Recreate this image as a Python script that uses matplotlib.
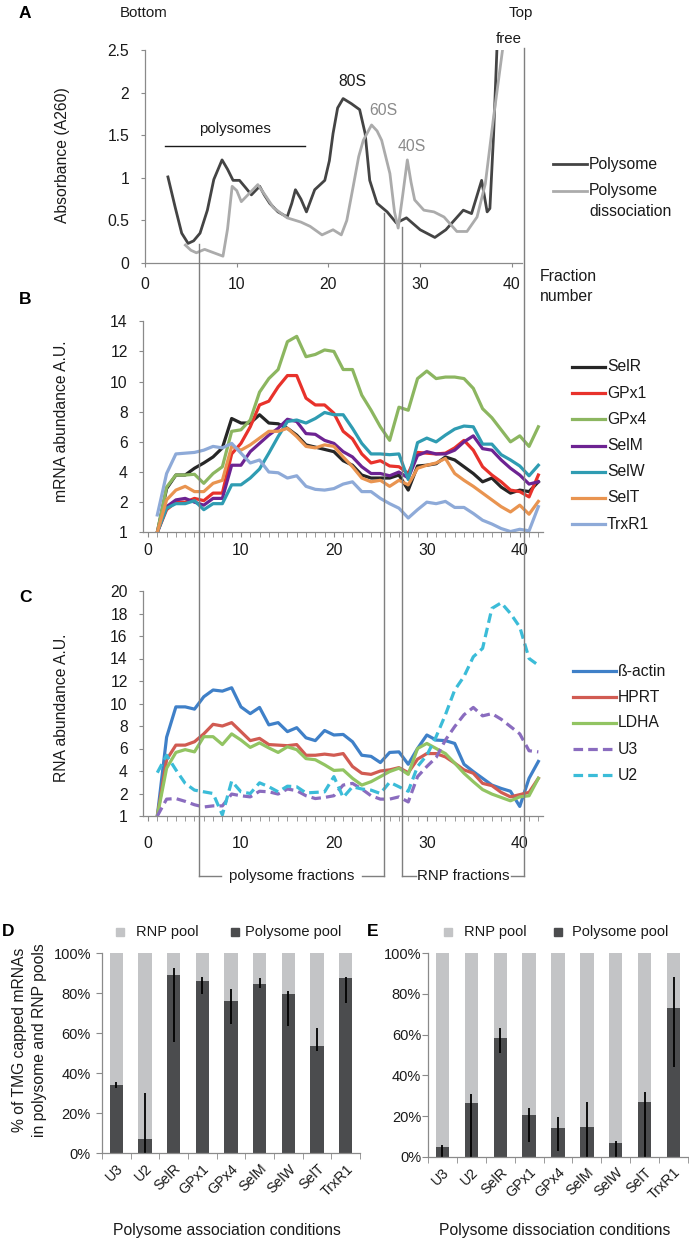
import matplotlib
matplotlib.use("Agg")
import matplotlib.pyplot as plt
from matplotlib.lines import Line2D
from matplotlib.patches import Rectangle
import numpy as np

plt.rcParams['font.family'] = ['Liberation Sans', 'DejaVu Sans']

W, H = 689, 1240

# ---------------- Panel A data (absorbance profile) ----------------
a_poly_x = [2.5, 3.3, 4.0, 4.7, 5.3, 6.0, 6.8, 7.5, 8.4, 9.0, 9.6, 10.3, 11.0, 11.6, 12.5, 13.0,
            13.6, 14.5, 15.5, 16.0, 16.4, 17.0, 17.6, 18.5, 19.6, 20.1, 20.5, 21.0, 21.6, 22.5,
            23.4, 24.0, 24.5, 25.3, 26.4, 27.4, 28.5, 30.0, 31.6, 32.8, 34.7, 35.6, 36.7, 37.3,
            37.6, 38.0, 38.4]
a_poly_y = [1.01, 0.65, 0.35, 0.23, 0.26, 0.35, 0.62, 0.98, 1.21, 1.10, 0.97, 0.97, 0.88, 0.80,
            0.90, 0.80, 0.70, 0.60, 0.54, 0.70, 0.86, 0.75, 0.60, 0.86, 0.97, 1.20, 1.52, 1.82,
            1.93, 1.87, 1.80, 1.52, 0.97, 0.70, 0.60, 0.47, 0.53, 0.39, 0.30, 0.39, 0.62, 0.58,
            0.97, 0.60, 0.64, 1.50, 2.60]
a_diss_x = [4.4, 5.0, 5.6, 6.5, 7.5, 8.5, 9.0, 9.5, 10.0, 10.5, 11.4, 12.3, 13.2, 14.0, 15.5,
            17.0, 18.0, 19.3, 20.5, 21.4, 22.0, 22.7, 23.3, 23.8, 24.7, 25.3, 25.8, 26.7, 27.2,
            27.6, 28.1, 28.6, 29.0, 29.4, 30.4, 31.5, 32.6, 34.0, 35.1, 36.2, 37.1, 38.0, 39.1]
a_diss_y = [0.21, 0.15, 0.12, 0.16, 0.12, 0.08, 0.40, 0.90, 0.85, 0.72, 0.82, 0.92, 0.78, 0.65,
            0.53, 0.48, 0.43, 0.33, 0.39, 0.33, 0.50, 0.90, 1.25, 1.44, 1.62, 1.55, 1.44, 1.05,
            0.60, 0.41, 0.80, 1.21, 0.95, 0.74, 0.62, 0.60, 0.54, 0.37, 0.37, 0.54, 0.93, 1.71, 2.60]

# ---------------- Panels B/C data ----------------
fractions = list(range(1, 43))

selr = [0, 2.9, 3.8, 3.8, 4.25, 4.6, 5.0, 5.6, 7.55, 7.25, 7.25, 7.8, 7.25, 7.2, 6.9, 6.45, 5.8,
        5.65, 5.5, 5.35, 4.75, 4.45, 3.8, 3.6, 3.6, 3.6, 3.8, 2.8, 4.4, 4.45, 4.55, 5.0, 4.8,
        4.35, 3.9, 3.35, 3.6, 3.0, 2.6, 2.8, 2.7, 3.35]
gpx1 = [0, 1.5, 2.0, 2.0, 2.25, 2.1, 2.6, 2.6, 5.2, 5.9, 7.0, 8.45, 8.7, 9.65, 10.4, 10.4, 8.9,
        8.45, 8.45, 7.9, 6.7, 6.2, 5.2, 4.6, 4.75, 4.4, 4.35, 3.9, 5.3, 5.25, 5.2, 5.25, 5.6,
        6.1, 5.45, 4.35, 3.8, 3.35, 2.8, 2.7, 2.35, 3.8]
gpx4 = [0, 3.0, 3.8, 3.8, 3.85, 3.25, 3.9, 4.35, 6.7, 6.8, 7.45, 9.3, 10.2, 10.8, 12.65, 13.0,
        11.65, 11.8, 12.1, 12.0, 10.8, 10.8, 9.1, 8.1, 7.0, 6.1, 8.3, 8.1, 10.2, 10.7, 10.2,
        10.3, 10.3, 10.2, 9.55, 8.2, 7.6, 6.8, 6.0, 6.4, 5.7, 7.0]
selm = [0, 1.7, 2.15, 2.25, 2.0, 1.8, 2.25, 2.25, 4.45, 4.45, 5.35, 5.9, 6.45, 6.9, 7.5, 7.35,
        6.55, 6.5, 6.1, 5.9, 5.35, 5.0, 4.35, 3.9, 3.9, 3.75, 4.0, 3.6, 5.1, 5.35, 5.2, 5.2,
        5.45, 6.0, 6.4, 5.55, 5.45, 4.8, 4.25, 3.8, 3.2, 3.35]
selw = [0, 1.6, 1.9, 1.9, 2.1, 1.5, 1.9, 1.9, 3.15, 3.15, 3.6, 4.2, 5.25, 6.35, 7.35, 7.45,
        7.25, 7.55, 7.95, 7.8, 7.8, 6.9, 5.9, 5.2, 5.2, 5.15, 5.2, 3.5, 5.95, 6.25, 6.0, 6.45,
        6.85, 7.05, 7.0, 5.85, 5.85, 5.15, 4.8, 4.4, 3.75, 4.45]
selt = [0, 2.15, 2.8, 3.05, 2.7, 2.7, 3.25, 3.45, 5.7, 5.45, 5.8, 6.25, 6.7, 6.7, 6.9, 6.35,
        5.7, 5.6, 5.8, 5.7, 5.0, 4.35, 3.6, 3.35, 3.45, 3.05, 3.45, 3.15, 4.25, 4.45, 4.6, 4.9,
        3.9, 3.45, 3.05, 2.6, 2.15, 1.7, 1.35, 1.8, 1.2, 2.05]
trxr1 = [1.15, 3.9, 5.2, 5.25, 5.3, 5.45, 5.7, 5.6, 5.9, 5.25, 4.6, 4.8, 4.0, 3.95, 3.6, 3.75,
         3.05, 2.85, 2.8, 2.9, 3.2, 3.35, 2.7, 2.7, 2.25, 1.9, 1.6, 0.95, 1.5, 2.0, 1.9, 2.05,
         1.65, 1.65, 1.25, 0.8, 0.55, 0.25, 0.05, 0.2, 0.1, 1.7]

bactin = [0, 7.0, 9.7, 9.7, 9.5, 10.6, 11.2, 11.1, 11.4, 9.7, 9.1, 9.65, 8.1, 8.3, 7.5, 7.85,
          6.95, 6.7, 7.6, 7.2, 7.25, 6.6, 5.4, 5.3, 4.75, 5.65, 5.7, 4.6, 6.0, 7.2, 6.75, 6.7,
          6.45, 4.6, 3.95, 3.35, 2.75, 2.45, 2.2, 0.85, 3.35, 4.85]
hprt = [0, 5.0, 6.3, 6.3, 6.6, 7.3, 8.15, 8.0, 8.3, 7.5, 6.7, 6.9, 6.35, 6.3, 6.25, 6.35, 5.4,
        5.4, 5.5, 5.4, 5.55, 4.4, 3.8, 3.7, 4.0, 4.1, 4.3, 3.85, 5.05, 5.55, 5.55, 5.25, 4.7,
        4.1, 3.8, 2.9, 2.7, 2.1, 1.7, 1.9, 2.1, 3.35]
ldha = [0, 4.25, 5.65, 5.9, 5.7, 7.05, 7.05, 6.35, 7.3, 6.75, 6.1, 6.5, 6.05, 5.65, 6.15, 5.9,
        5.1, 5.0, 4.55, 4.05, 4.1, 3.35, 2.75, 3.05, 3.5, 3.95, 4.25, 3.7, 6.0, 6.45, 6.0, 5.55,
        4.7, 3.8, 3.05, 2.35, 1.95, 1.65, 1.35, 1.7, 1.8, 3.35]
u3 = [0, 1.5, 1.55, 1.3, 1.0, 0.8, 0.9, 0.9, 1.95, 1.8, 1.7, 2.2, 2.15, 1.95, 2.4, 2.25, 1.8,
      1.55, 1.65, 1.8, 2.75, 2.9, 2.4, 1.8, 1.5, 1.5, 1.7, 1.25, 3.5, 4.4, 5.2, 6.75, 7.95,
      9.0, 9.65, 8.9, 9.1, 8.6, 7.95, 7.3, 5.8, 5.7]
u2 = [3.85, 5.4, 4.1, 2.9, 2.3, 2.15, 2.0, 0.1, 3.1, 2.15, 2.0, 2.95, 2.6, 2.15, 2.65, 2.6,
      2.05, 2.1, 2.15, 3.5, 1.65, 2.6, 2.4, 2.3, 2.0, 3.0, 2.6, 2.2, 4.4, 5.4, 7.05, 9.0, 11.2,
      12.4, 14.15, 14.9, 18.45, 18.95, 18.0, 16.8, 14.0, 13.4]

b_names = ['SelR', 'GPx1', 'GPx4', 'SelM', 'SelW', 'SelT', 'TrxR1']
b_series = [selr, gpx1, gpx4, selm, selw, selt, trxr1]
b_colors = ['#262626', '#e8322b', '#8cb660', '#6d2392', '#2f9cb2', '#e99450', '#8eaad8']

c_names = ['ß-actin', 'HPRT', 'LDHA', 'U3', 'U2']
c_series = [bactin, hprt, ldha, u3, u2]
c_colors = ['#3f80c8', '#d15b52', '#92c462', '#8a6cbf', '#3bbcd8']
c_dashed = [False, False, False, True, True]

b_yticks = [0, 2, 4, 6, 8, 10, 12, 14]
b_yticklabels = ['1', '2', '4', '6', '8', '10', '12', '14']
c_yticks = [0, 2, 4, 6, 8, 10, 12, 14, 16, 18, 20]
c_yticklabels = ['1', '2', '4', '6', '8', '10', '12', '14', '16', '18', '20']

# ---------------- Panels D/E data ----------------
genes = ['U3', 'U2', 'SelR', 'GPx1', 'GPx4', 'SelM', 'SelW', 'SelT', 'TrxR1']
d_poly = [34.2, 7.0, 89.2, 86.2, 76.2, 84.7, 79.7, 53.8, 87.5]
d_err_low = [1.5, 7.0, 33.4, 6.7, 11.7, 2.2, 16.0, 2.5, 12.2]
d_err_high = [1.5, 23.0, 3.3, 2.1, 5.8, 2.8, 1.5, 8.7, 0.8]
e_poly = [4.6, 26.2, 58.2, 20.5, 14.3, 14.6, 6.9, 27.0, 72.9]
e_err_low = [4.6, 26.2, 7.1, 13.1, 11.3, 14.6, 6.9, 27.0, 28.6]
e_err_high = [1.1, 4.6, 4.9, 3.3, 5.0, 12.4, 0.6, 5.0, 15.3]

# ---------------- figure ----------------
fig = plt.figure(figsize=(W / 100, H / 100), dpi=100)
fig.patch.set_facecolor('white')

FS = 11.3       # general text size
TFS = 11.3      # tick label size

def rect(l, t, r, b):
    return [l / W, 1 - b / H, (r - l) / W, (b - t) / H]

SPINE = '#8a8a8a'
TXT = '#1a1a1a'

def style_axes(ax, fs=TFS):
    for s in ['top', 'right']:
        ax.spines[s].set_visible(False)
    for s in ['left', 'bottom']:
        ax.spines[s].set_color(SPINE)
        ax.spines[s].set_linewidth(0.9)
    ax.tick_params(colors=SPINE, labelcolor=TXT, labelsize=fs, width=0.8, length=3)

# Panel A
axA = fig.add_axes(rect(145, 50, 522, 263))
style_axes(axA)
axA.plot(a_poly_x, a_poly_y, color='#444444', lw=2.0, solid_joinstyle='round')
axA.plot(a_diss_x, a_diss_y, color='#ababab', lw=2.0, solid_joinstyle='round')
axA.set_xlim(0, 41.1)
axA.set_ylim(0, 2.5)
axA.set_xticks([0, 10, 20, 30, 40])
axA.set_yticks([0, 0.5, 1, 1.5, 2, 2.5])
axA.set_yticklabels(['0', '0.5', '1', '1.5', '2', '2.5'])
axA.tick_params(axis='x', pad=7)
axA.tick_params(axis='y', pad=8.5)
axA.plot([2.2, 17.4], [1.37, 1.37], color='#1a1a1a', lw=1.0)
axA.text(9.8, 1.49, 'polysomes', ha='center', va='bottom', fontsize=10.8, color=TXT)
axA.text(22.6, 2.04, '80S', ha='center', va='bottom', fontsize=FS, color=TXT)
axA.text(26.0, 1.70, '60S', ha='center', va='bottom', fontsize=FS, color='#8a8a8a')
axA.text(29.1, 1.28, '40S', ha='center', va='bottom', fontsize=FS, color='#8a8a8a')
axA.text(39.7, 2.55, 'free', ha='center', va='bottom', fontsize=10.8, color=TXT, clip_on=False)

# Panel B
axB = fig.add_axes(rect(143, 321.3, 543, 532.3))
style_axes(axB)
for name, ser, col in zip(b_names, b_series, b_colors):
    axB.plot(fractions, ser, color=col, lw=2.3, solid_joinstyle='round', label=name)
axB.set_xlim(-0.54, 42.5)
axB.set_ylim(0, 14)
axB.set_yticks(b_yticks)
axB.set_yticklabels(b_yticklabels)
axB.set_xticks([0, 10, 20, 30, 40])
axB.set_xticks(list(range(0, 43)), minor=True)
axB.tick_params(axis='x', which='both', length=3.5, pad=4, colors=SPINE, labelcolor=TXT)
axB.tick_params(axis='y', pad=8)

# Panel C
axC = fig.add_axes(rect(143, 591, 543, 816))
style_axes(axC)
for name, ser, col, dsh in zip(c_names, c_series, c_colors, c_dashed):
    ls = (0, (3.0, 1.6)) if dsh else '-'
    axC.plot(fractions, ser, color=col, lw=2.3, ls=ls, solid_joinstyle='round', label=name)
axC.set_xlim(-0.54, 42.5)
axC.set_ylim(0, 20)
axC.set_yticks(c_yticks)
axC.set_yticklabels(c_yticklabels)
axC.set_xticks([0, 10, 20, 30, 40])
axC.set_xticks(list(range(0, 43)), minor=True)
axC.tick_params(axis='x', which='both', length=3.5, pad=11, colors=SPINE, labelcolor=TXT)
axC.tick_params(axis='y', pad=8)

# Panels D and E
RNP_C = '#c3c4c6'
POLY_C = '#4b4c4e'

def bar_panel(ax, poly, lo, hi, ypad):
    style_axes(ax, fs=10.5)
    xs = np.arange(len(genes))
    ax.bar(xs, [100] * len(genes), width=0.46, color=RNP_C, zorder=1)
    ax.bar(xs, poly, width=0.46, color=POLY_C, zorder=2)
    ax.errorbar(xs, poly, yerr=[lo, hi], fmt='none', ecolor='black', elinewidth=1.3,
                capsize=0, zorder=3)
    ax.set_xlim(-0.5, len(genes) - 0.5)
    ax.set_ylim(0, 100)
    ax.set_yticks([0, 20, 40, 60, 80, 100])
    ax.set_yticklabels(['0%', '20%', '40%', '60%', '80%', '100%'])
    ax.set_xticks(xs)
    ax.set_xticklabels(genes, rotation=45, ha='right', rotation_mode='anchor', fontsize=10.3)
    ax.set_xticks(np.arange(-0.5, len(genes), 1.0), minor=True)
    ax.tick_params(axis='x', which='major', length=0, pad=6)
    ax.tick_params(axis='x', which='minor', length=4, colors=SPINE)
    ax.tick_params(axis='y', pad=ypad, length=4)
    ax.spines['bottom'].set_zorder(5)

axD = fig.add_axes(rect(102, 953.3, 360, 1153.3))
bar_panel(axD, d_poly, d_err_low, d_err_high, 4)
axE = fig.add_axes(rect(428, 953.3, 688, 1156.7))
bar_panel(axE, e_poly, e_err_low, e_err_high, 1)

# ---------------- figure-level annotations ----------------
def fx(px):
    return px / W

def fy(py):
    return 1 - py / H

fig.canvas.draw()

def frac_to_px(xv):
    return axB.transData.transform((xv, 0))[0]

vline_fracs = [5.5, 25.4, 27.3, 40.45]
vline_tops = [244, 213, 227, 48]
BR_Y = 876
LINE_C = '#7f7f7f'
vx = [frac_to_px(v) for v in vline_fracs]
for xpx, top in zip(vx, vline_tops):
    fig.add_artist(Line2D([fx(xpx), fx(xpx)], [fy(top), fy(BR_Y)], color=LINE_C, lw=1.0))
# brackets
fig.add_artist(Line2D([fx(vx[0]), fx(vx[0] + 22)], [fy(BR_Y)] * 2, color=LINE_C, lw=1.0))
fig.add_artist(Line2D([fx(vx[1] - 22), fx(vx[1])], [fy(BR_Y)] * 2, color=LINE_C, lw=1.0))
fig.text(fx((vx[0] + vx[1]) / 2), fy(BR_Y), 'polysome fractions', ha='center', va='center',
         fontsize=10.8, color=TXT)
fig.add_artist(Line2D([fx(vx[2]), fx(vx[2] + 14)], [fy(BR_Y)] * 2, color=LINE_C, lw=1.0))
fig.add_artist(Line2D([fx(vx[3] - 13), fx(vx[3])], [fy(BR_Y)] * 2, color=LINE_C, lw=1.0))
fig.text(fx((vx[2] + vx[3]) / 2), fy(BR_Y), 'RNP fractions', ha='center', va='center',
         fontsize=10.8, color=TXT)

# Panel letters and labels
for letter, (lx, ly) in zip('ABCDE', [(25, 13), (25, 300), (25, 598), (8, 932), (373, 932)]):
    fig.text(fx(lx), fy(ly), letter, ha='center', va='center', fontsize=12.5,
             fontweight='bold', color='black')

fig.text(fx(144), fy(13), 'Bottom', ha='center', va='center', fontsize=10.8, color=TXT)
fig.text(fx(521), fy(13), 'Top', ha='center', va='center', fontsize=10.8, color=TXT)
fig.text(fx(540), fy(276), 'Fraction', ha='left', va='center', fontsize=FS, color=TXT)
fig.text(fx(540), fy(296), 'number', ha='left', va='center', fontsize=FS, color=TXT)

fig.text(fx(62), fy(155), 'Absorbance (A260)', rotation=90, ha='center', va='center',
         fontsize=FS, color=TXT)
fig.text(fx(62), fy(421), 'mRNA abundance A.U.', rotation=90, ha='center', va='center',
         fontsize=FS, color=TXT)
fig.text(fx(62), fy(708), 'RNA abundance A.U.', rotation=90, ha='center', va='center',
         fontsize=FS, color=TXT)
fig.text(fx(20), fy(1040), '% of TMG capped mRNAs', rotation=90, ha='center', va='center',
         fontsize=FS, color=TXT)
fig.text(fx(40), fy(1040), 'in polysome and RNP pools', rotation=90, ha='center', va='center',
         fontsize=FS, color=TXT)
fig.text(fx(227), fy(1230), 'Polysome association conditions', ha='center', va='center',
         fontsize=FS, color=TXT)
fig.text(fx(555), fy(1230), 'Polysome dissociation conditions', ha='center', va='center',
         fontsize=FS, color=TXT)

# Legends (manual placement)
def legend_line(x0, x1, y, color, ls, lw, label):
    fig.add_artist(Line2D([fx(x0), fx(x1)], [fy(y), fy(y)], color=color, lw=lw, ls=ls))
    fig.text(fx(x1 + 2), fy(y), label, ha='left', va='center', fontsize=FS, color=TXT)

legend_line(553, 587, 164, '#444444', '-', 2.0, 'Polysome')
legend_line(553, 587, 191, '#ababab', '-', 2.0, 'Polysome')
fig.text(fx(589), fy(211), 'dissociation', ha='left', va='center', fontsize=FS, color=TXT)

for i, (name, col) in enumerate(zip(b_names, b_colors)):
    legend_line(572, 605, 367 + i * 26.2, col, '-', 2.3, name)

for i, (name, col, dsh) in enumerate(zip(c_names, c_colors, c_dashed)):
    ls = (0, (3.0, 1.6)) if dsh else '-'
    legend_line(573, 616, 671 + i * 26, col, ls, 2.3, name)

def legend_square(x, y, color, label, tx):
    s = 8
    fig.add_artist(Rectangle((fx(x - s / 2), fy(y + s / 2)), s / W, s / H, color=color,
                             transform=fig.transFigure))
    fig.text(fx(tx), fy(y), label, ha='left', va='center', fontsize=10.5, color=TXT)

legend_square(120, 932, RNP_C, 'RNP pool', 136)
legend_square(235, 932, POLY_C, 'Polysome pool', 245)
legend_square(448, 932, RNP_C, 'RNP pool', 464)
legend_square(558, 932, POLY_C, 'Polysome pool', 572)

fig.savefig('out.png', dpi=100)
